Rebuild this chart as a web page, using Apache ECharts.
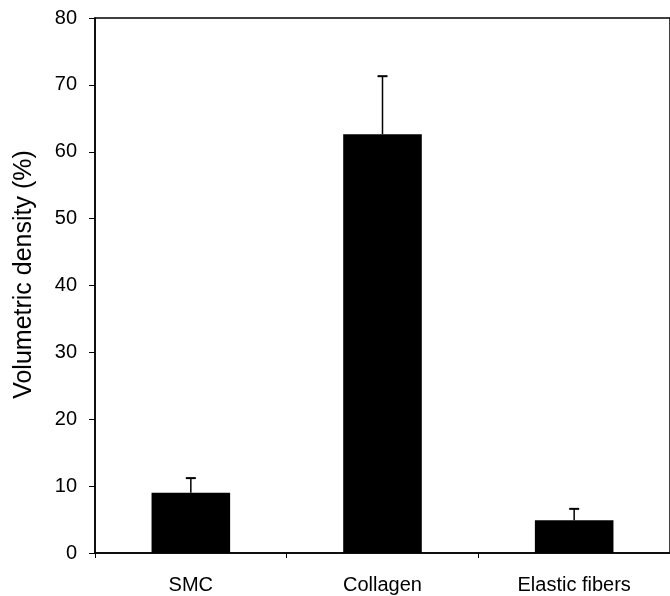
<!DOCTYPE html>
<html>
<head>
<meta charset="utf-8">
<script src="https://cdn.jsdelivr.net/npm/echarts@6/dist/echarts.min.js"></script>
<style>
  html, body { margin: 0; padding: 0; background: #fff; }
  #chart { width: 670px; height: 596px; }
</style>
</head>
<body>
<div id="chart"></div>
<script>
// categories and values
var categories = ['SMC', 'Collagen', 'Elastic fibers'];
var means = [9.0, 62.6, 4.9];
var upperErrors = [2.2, 8.7, 1.7];   // only the upper half of the error bar is drawn
var yTicks = [0, 10, 20, 30, 40, 50, 60, 70, 80];

var errorData = [];
for (var i = 0; i < categories.length; i++) {
    errorData.push([i, means[i], means[i] + upperErrors[i]]);
}

var myChart = echarts.init(document.getElementById('chart'));

var option = {
    animation: false,
    textStyle: { fontFamily: 'Liberation Sans, Arial, sans-serif', color: '#000' },
    grid: {
        left: 95, top: 18, bottom: 43, right: -4,
        show: true, borderColor: '#000', borderWidth: 1.5, backgroundColor: 'transparent'
    },
    xAxis: {
        type: 'category',
        data: categories,
        axisLine: { lineStyle: { color: '#000', width: 1.5 } },
        axisTick: { show: true, length: 5, lineStyle: { color: '#000' } },
        axisLabel: { color: '#000', fontSize: 20, margin: 22 }
    },
    yAxis: {
        type: 'value',
        min: yTicks[0],
        max: yTicks[yTicks.length - 1],
        interval: 10,
        name: 'Volumetric density (%)',
        nameLocation: 'middle',
        nameGap: 58,
        nameTextStyle: { fontSize: 25, color: '#000', padding: [0, 0, 0, 22] },
        splitLine: { show: false },
        axisLine: { show: true, lineStyle: { color: '#000', width: 1.5 } },
        axisTick: { show: true, length: 6, lineStyle: { color: '#000' } },
        axisLabel: { color: '#000', fontSize: 20, margin: 18 }
    },
    series: [
        {
            type: 'bar',
            data: means,
            barWidth: '41%',
            itemStyle: { color: '#000' }
        },
        {
            type: 'custom',
            data: errorData,
            z: 5,
            renderItem: function (params, api) {
                var x = api.value(0);
                var base = api.coord([x, api.value(1)]);
                var top = api.coord([x, api.value(2)]);
                var half = 5;
                return {
                    type: 'group',
                    children: [
                        { type: 'line', shape: { x1: base[0], y1: base[1], x2: top[0], y2: top[1] },
                          style: { stroke: '#000', lineWidth: 1.5 } },
                        { type: 'line', shape: { x1: top[0] - half, y1: top[1], x2: top[0] + half, y2: top[1] },
                          style: { stroke: '#000', lineWidth: 2 } }
                    ]
                };
            }
        }
    ]
};

myChart.setOption(option);
</script>
</body>
</html>
